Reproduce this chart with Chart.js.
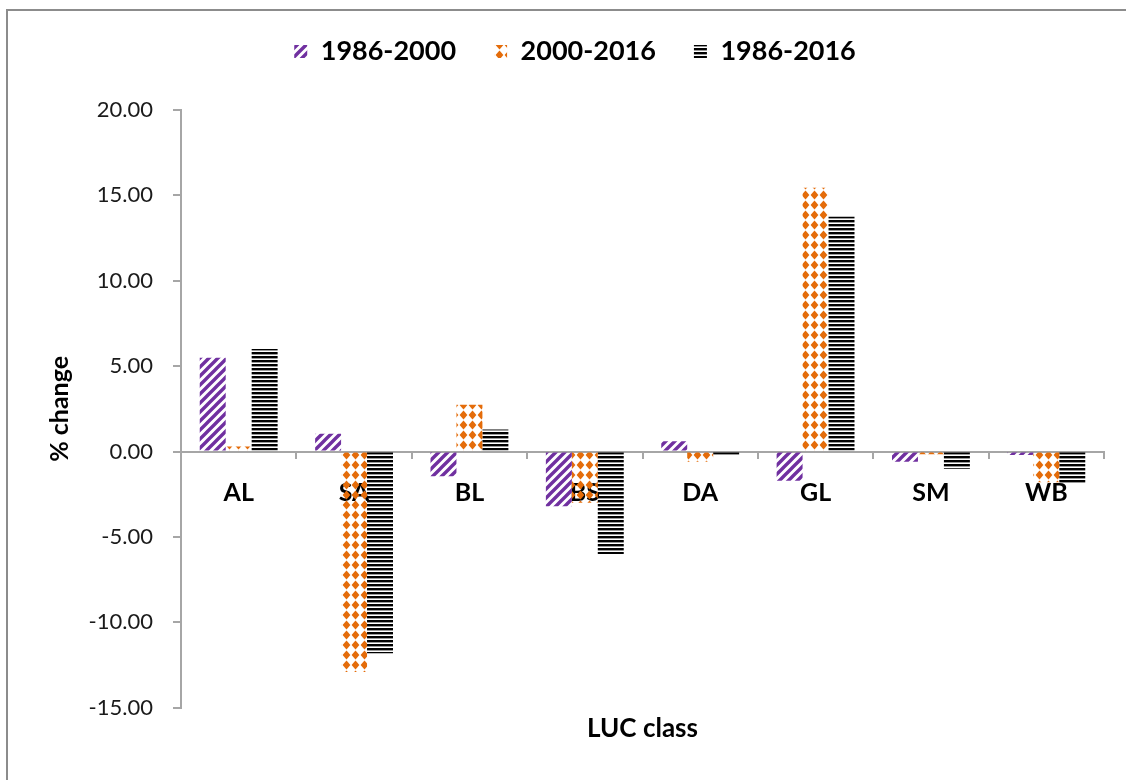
<!DOCTYPE html>
<html>
<head>
<meta charset="utf-8">
<script src="https://cdn.jsdelivr.net/npm/chart.js@4.4.1/dist/chart.umd.min.js"></script>
<style>
  html, body { margin: 0; padding: 0; background: #ffffff; }
  #wrap { position: relative; width: 1126px; height: 780px; }
</style>
</head>
<body>
<div id="wrap"><canvas id="c" width="1126" height="780"></canvas></div>
<script>
// ---- data ----
const categories = ['AL', 'SA', 'BL', 'BS', 'DA', 'GL', 'SM', 'WB'];
const seriesNames = ['1986-2000', '2000-2016', '1986-2016'];
const change1986_2000 = [5.5, 1.05, -1.45, -3.2, 0.6, -1.7, -0.6, -0.2];
const change2000_2016 = [0.3, -12.9, 2.75, -3.0, -0.6, 15.45, -0.15, -1.8];
const change1986_2016 = [6.0, -11.8, 1.3, -6.0, -0.2, 13.75, -1.0, -1.85];
const yTickMin = -15, yTickMax = 20, yTickStep = 5;

// ---- patterns ----
function stripePattern(color) {
  const c = document.createElement('canvas');
  c.width = 9; c.height = 9;
  const x = c.getContext('2d');
  x.strokeStyle = color; x.lineWidth = 3.4;
  x.beginPath();
  x.moveTo(-4.5, 4.5); x.lineTo(4.5, -4.5);
  x.moveTo(0, 9); x.lineTo(9, 0);
  x.moveTo(4.5, 13.5); x.lineTo(13.5, 4.5);
  x.stroke();
  return x.createPattern(c, 'repeat');
}
function diamondPattern(color) {
  const c = document.createElement('canvas');
  c.width = 9; c.height = 10;
  const x = c.getContext('2d');
  x.fillStyle = color;
  x.beginPath();
  x.moveTo(4.5, 0.4); x.lineTo(8.4, 5); x.lineTo(4.5, 9.6); x.lineTo(0.6, 5);
  x.closePath(); x.fill();
  return x.createPattern(c, 'repeat');
}
function hlinePattern(color) {
  const c = document.createElement('canvas');
  c.width = 4; c.height = 4;
  const x = c.getContext('2d');
  x.fillStyle = color;
  x.fillRect(0, 0, 4, 2.4);
  return x.createPattern(c, 'repeat');
}

const borderPlugin = {
  id: 'outerBorder',
  afterLayout(chart) {
    if (chart.legend) { chart.legend.left += 23; chart.legend.right += 23; }
  },
  beforeDraw(chart) {
    const ctx = chart.ctx;
    ctx.save();
    ctx.strokeStyle = '#8c8c8c';
    ctx.lineWidth = 2;
    ctx.beginPath();
    ctx.moveTo(7, 780); ctx.lineTo(7, 10); ctx.lineTo(1126, 10);
    ctx.stroke();
    ctx.restore();
  }
};

function make() {
  const purple = stripePattern('#7030A0');
  const orange = diamondPattern('#E46C0A');
  const black = hlinePattern('#000000');
  new Chart(document.getElementById('c'), {
    type: 'bar',
    data: {
      labels: categories,
      datasets: [
        { label: seriesNames[0], data: change1986_2000, backgroundColor: purple, borderWidth: 0 },
        { label: seriesNames[1], data: change2000_2016, backgroundColor: orange, borderWidth: 0 },
        { label: seriesNames[2], data: change1986_2016, backgroundColor: black, borderWidth: 0 }
      ]
    },
    plugins: [borderPlugin],
    options: {
      responsive: false,
      animation: false,
      devicePixelRatio: 1,
      layout: { padding: { left: 0, right: 22, top: 0, bottom: 0 } },
      datasets: { bar: { categoryPercentage: 0.675, barPercentage: 1.0 } },
      plugins: {
        tooltip: { enabled: false },
        legend: {
          position: 'top',
          weight: 1000,
          labels: {
            boxWidth: 13, boxHeight: 13, padding: 38, color: '#000',
            font: { family: 'Lato', size: 27, weight: 'bold' }
          }
        },
        subtitle: {
          display: true, text: '', position: 'top', weight: 500,
          font: { size: 10, lineHeight: 1.2 }, padding: { top: 23, bottom: 0 }
        },
        title: {
          display: true, text: 'LUC class', position: 'bottom', color: '#000',
          fullSize: false,
          font: { family: 'Lato', size: 26, weight: 'bold', lineHeight: 1.2 },
          padding: { top: 5, bottom: 36 }
        }
      },
      scales: {
        x: {
          position: { y: 0 },
          grid: { display: true, drawOnChartArea: false, offset: true, tickLength: 6, color: '#a6a6a6', lineWidth: 2 },
          border: { display: true, color: '#a6a6a6', width: 2 },
          ticks: { color: '#000', padding: 20, font: { family: 'Lato', size: 25, weight: 'bold' } }
        },
        y: {
          min: yTickMin, max: yTickMax,
          afterFit(scale) { scale.width = 181; },
          grid: { display: true, drawOnChartArea: false, tickLength: 8, color: '#a6a6a6', lineWidth: 2 },
          border: { display: true, color: '#a6a6a6', width: 2 },
          ticks: {
            stepSize: yTickStep, color: '#1a1a1a', padding: 20,
            font: { family: 'Lato', size: 22 },
            callback: (v) => Number(v).toFixed(2)
          },
          title: {
            display: true, text: '% change', color: '#000',
            font: { family: 'Lato', size: 25, weight: 'bold', lineHeight: 1.2 },
            padding: { top: 45, bottom: 0 }
          }
        }
      }
    }
  });
}

Promise.all([
  document.fonts.load('bold 27px Lato'),
  document.fonts.load('22px Lato')
]).then(make, make);
</script>
</body>
</html>
